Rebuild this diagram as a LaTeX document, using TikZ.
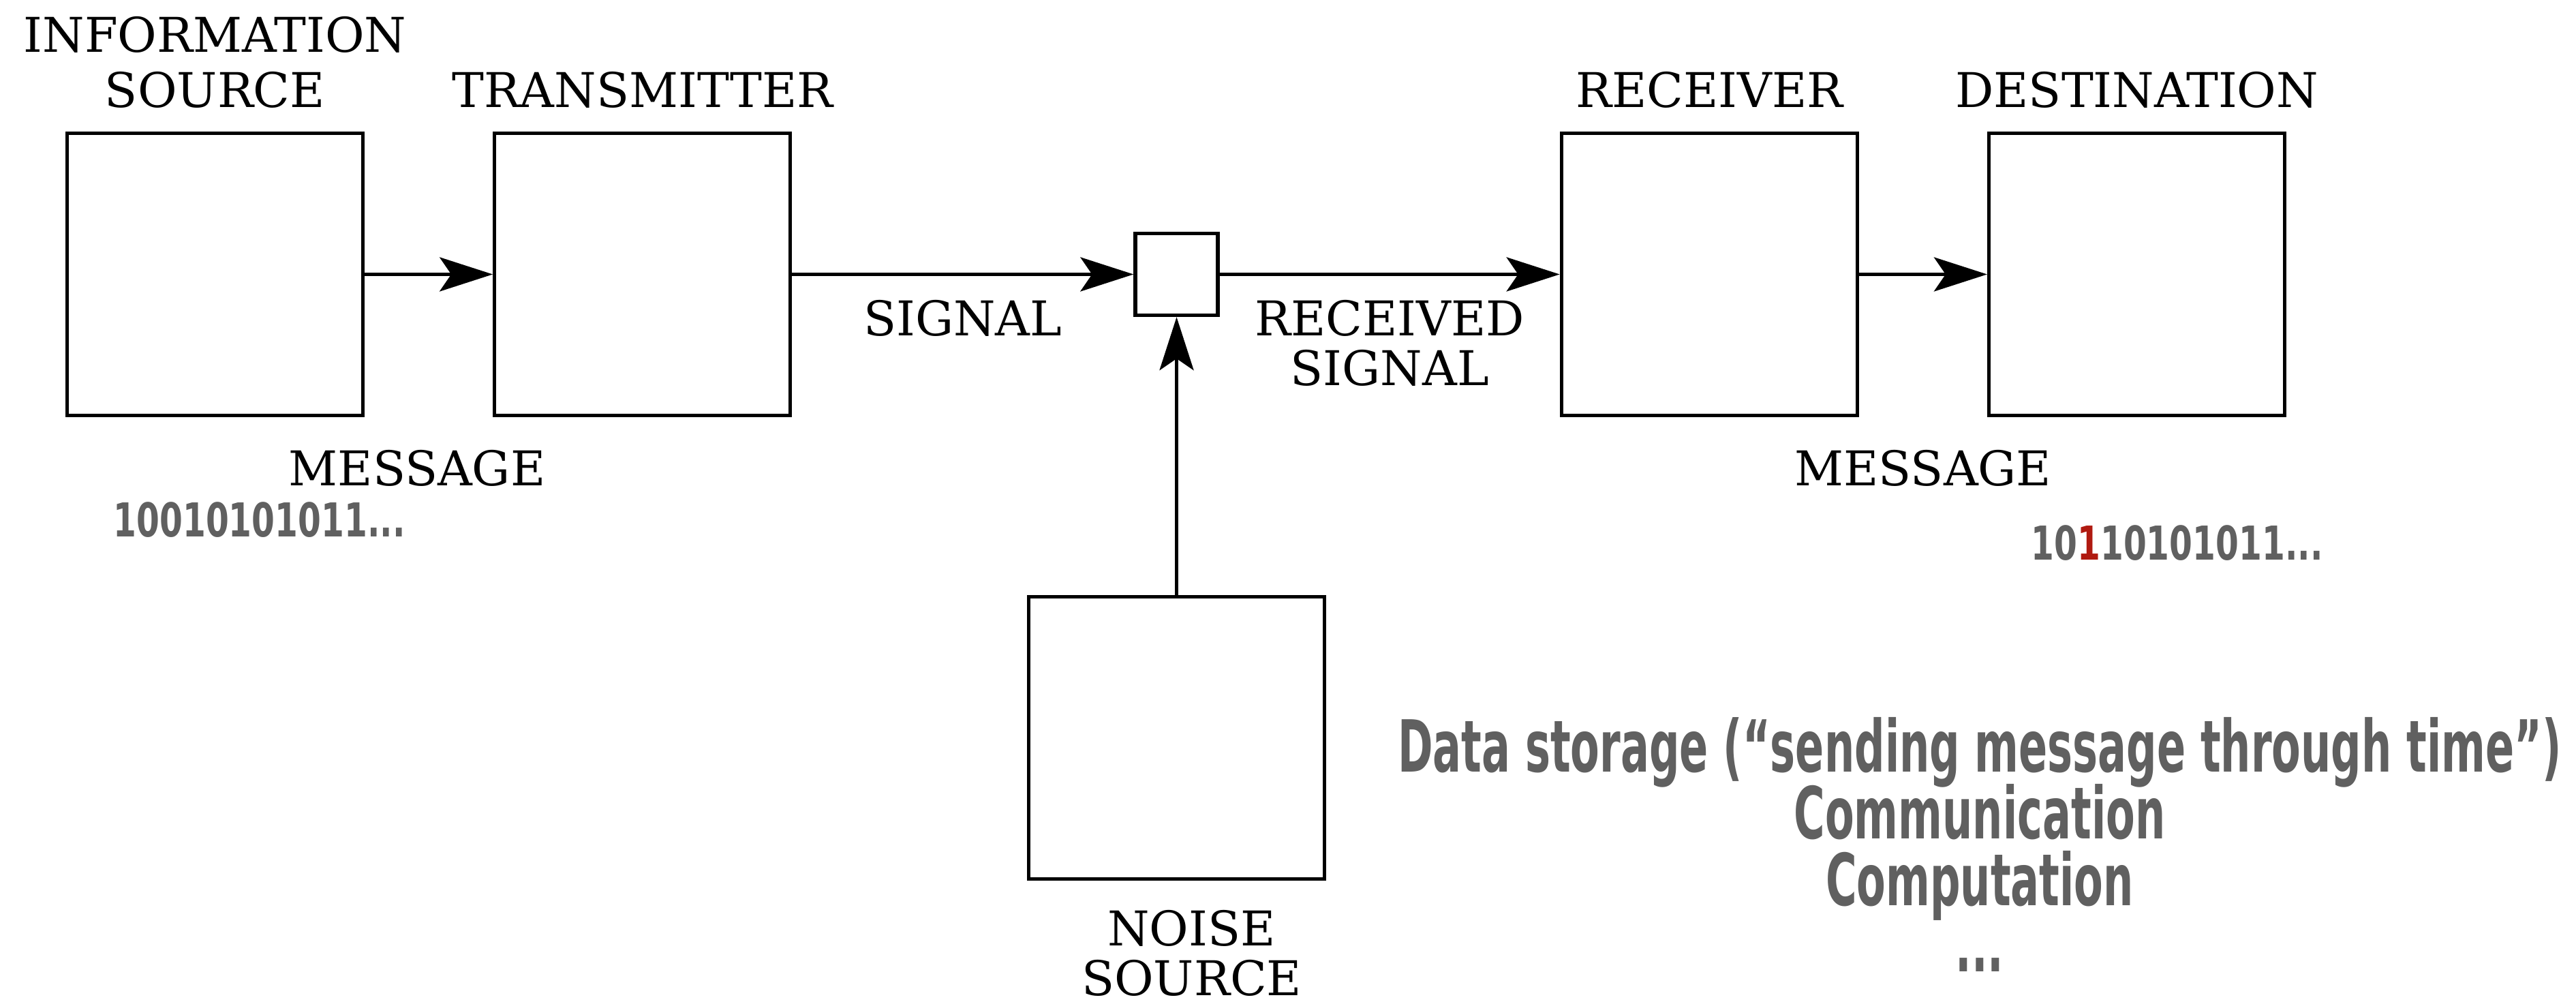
\documentclass[tikz,border=0pt]{standalone}
\usepackage{fontspec}
\setmainfont{DejaVu Serif}
\newfontfamily\handfont[FakeStretch=0.59]{DejaVu Sans}
\newfontfamily\digfont[FakeStretch=0.71]{DejaVu Sans}
\usepackage{tikz}
\usetikzlibrary{arrows.meta, positioning}
\definecolor{ink}{HTML}{000000}
\definecolor{chalk}{HTML}{606060}
\definecolor{flip}{HTML}{B01A10}
\newcommand\handlines{\fontsize{30}{27.8}\selectfont\lineskiplimit=-100pt\relax}

\begin{document}
\begin{tikzpicture}[font=\fontsize{20}{20.8}\selectfont,
    blk/.style={draw=ink, line width=1.5pt, minimum width=4.34cm,
                minimum height=4.14cm, inner sep=0pt},
    lbl/.style={inner sep=0pt, align=center},
    conn/.style={-{Stealth[length=7.8mm, width=5mm, inset=1.7mm]},
                 line width=1.5pt, ink},
    bits/.style={inner sep=0pt, text=chalk,
                 font=\digfont\bfseries\fontsize{19.5}{20}\selectfont}]
  \useasboundingbox (0,0) rectangle (37.8,14.7);
  % the chain
  \node[blk] (src) at (3.155,10.675) {};
  \node[blk, right=1.88cm of src] (tx) {};
  \node[blk, minimum width=1.21cm, minimum height=1.20cm, right=5.01cm of tx] (mix) {};
  \node[blk, right=4.99cm of mix] (rx) {};
  \node[blk, right=1.88cm of rx] (dst) {};
  \node[blk, below=4.08cm of mix] (noise) {};
  % names
  \node[lbl, above=0.34cm of src] (srcname) {INFORMATION\\[0.08cm]SOURCE};
  \node[lbl, above=0.34cm of tx] (txname) {TRANSMITTER};
  \node[lbl, above=0.34cm of rx] (rxname) {RECEIVER};
  \node[lbl, above=0.34cm of dst] (dstname) {DESTINATION};
  \node[lbl, below=0.42cm of noise, xshift=2.2mm] (noisename) {NOISE\\SOURCE};
  % connectors
  \draw[conn] (src) -- node[lbl, below=2.55cm, xshift=-1.7mm] (msgA) {MESSAGE} (tx);
  \draw[conn] (tx) -- node[lbl, below=0.35cm] (sig) {SIGNAL} (mix);
  \draw[conn] (mix) -- node[lbl, below=0.35cm] (rsig) {RECEIVED\\SIGNAL} (rx);
  \draw[conn] (rx) -- node[lbl, below=2.55cm] (msgB) {MESSAGE} (dst);
  \draw[conn] (noise) -- (mix);
  % bit strings
  \node[bits, below=1.24cm of src.south, xshift=6.5mm] (bitsA) {10010101011...};
  \node[bits, below=1.58cm of dst.south, xshift=5.9mm] (bitsB)
    {10\textcolor{flip}{1}10101011...};
  % uses
  \node[align=center, anchor=north, inner sep=0pt, text=chalk,
        font=\handfont\bfseries\handlines]
    (uses) at (29.05,4.18)
    {Data storage (“sending message through time”)\\Communication\\Computation\\...};
\end{tikzpicture}
\end{document}
